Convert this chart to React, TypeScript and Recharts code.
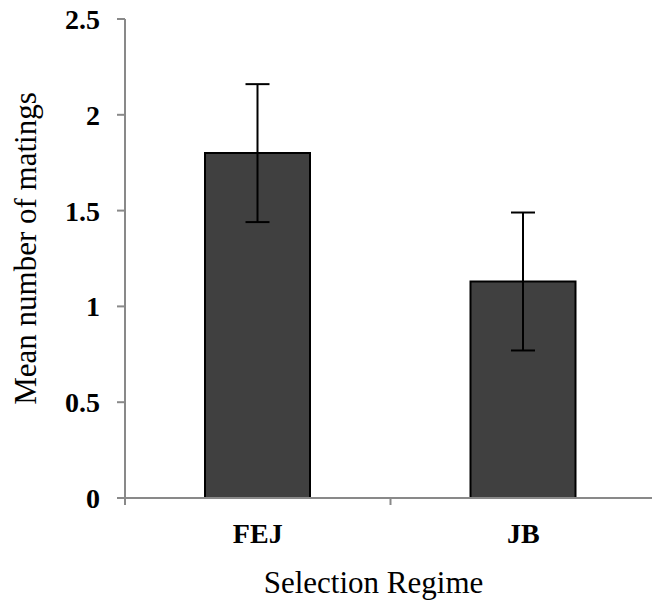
import React from 'react';
import { BarChart, Bar, XAxis, YAxis, ErrorBar, Label } from 'recharts';

const categories = ['FEJ', 'JB'];
const meanMatings = [1.8, 1.13];
const errorValues = [0.36, 0.36];
const yTicks = [0, 0.5, 1, 1.5, 2, 2.5];

const data = categories.map((name, i) => ({ name, mean: meanMatings[i], err: errorValues[i] }));

const font = 'Liberation Serif, DejaVu Serif, serif';
const axisGray = '#898989';
const X_TICK_SIZE = 7;
const X_TICK_MARGIN = 18;

// category ticks in the reference sit on the band edges, not the centres
const CategoryTick = (props: any) => {
  const { x, y, payload, index, visibleTicksCount } = props;
  const half = payload && payload.offset ? payload.offset : 132.75;
  const axisY = y - X_TICK_SIZE - X_TICK_MARGIN;
  const isLast = index === visibleTicksCount - 1;
  return (
    <g>
      <line x1={x - half} x2={x - half} y1={axisY} y2={axisY + X_TICK_SIZE} stroke={axisGray} strokeWidth={2} />
      {isLast && (
        <line x1={x + half} x2={x + half} y1={axisY} y2={axisY + X_TICK_SIZE} stroke={axisGray} strokeWidth={2} />
      )}
      <text x={x} y={y} dy="0.71em" textAnchor="middle" fontSize={28} fontWeight="bold" fontFamily={font} fill="#000">
        {payload.value}
      </text>
    </g>
  );
};

const App: React.FC = () => {
  return (
    <div style={{ position: 'absolute', left: 0, top: 0, width: 652, height: 604, overflow: 'hidden', background: '#fff' }}>
      <BarChart width={660} height={604} data={data} margin={{ top: 19, right: 4, left: 0, bottom: 0 }}>
        <XAxis
          dataKey="name"
          height={106}
          axisLine={{ stroke: axisGray, strokeWidth: 2 }}
          tickLine={false}
          tickSize={X_TICK_SIZE}
          tickMargin={X_TICK_MARGIN}
          tick={<CategoryTick />}
        >
          <Label
            content={({ viewBox }: any) => (
              <text
                x={viewBox.x + viewBox.width / 2 - 17}
                y={viewBox.y + 94.6}
                textAnchor="middle"
                fontSize={31}
                fontFamily={font}
                fill="#000"
              >
                Selection Regime
              </text>
            )}
          />
        </XAxis>
        <YAxis
          width={125}
          domain={[0, 2.5]}
          ticks={yTicks}
          interval={0}
          axisLine={{ stroke: axisGray, strokeWidth: 2 }}
          tickLine={{ stroke: axisGray, strokeWidth: 2 }}
          tickSize={8}
          tickMargin={17}
          tick={{ fill: '#000', fontSize: 28, fontWeight: 'bold', fontFamily: font }}
        >
          <Label
            content={({ viewBox }: any) => {
              const x = viewBox.x + 36;
              const y = viewBox.y + viewBox.height / 2 - 10;
              return (
                <text
                  x={x}
                  y={y}
                  transform={`rotate(-90, ${x}, ${y})`}
                  textAnchor="middle"
                  fontSize={31}
                  fontFamily={font}
                  fill="#000"
                >
                  Mean number of matings
                </text>
              );
            }}
          />
        </YAxis>
        <Bar dataKey="mean" fill="#404040" stroke="#000" strokeWidth={2} barSize={105} isAnimationActive={false}>
          <ErrorBar dataKey="err" width={12} stroke="#000" strokeWidth={2} isAnimationActive={false} />
        </Bar>
      </BarChart>
    </div>
  );
};

export default App;
